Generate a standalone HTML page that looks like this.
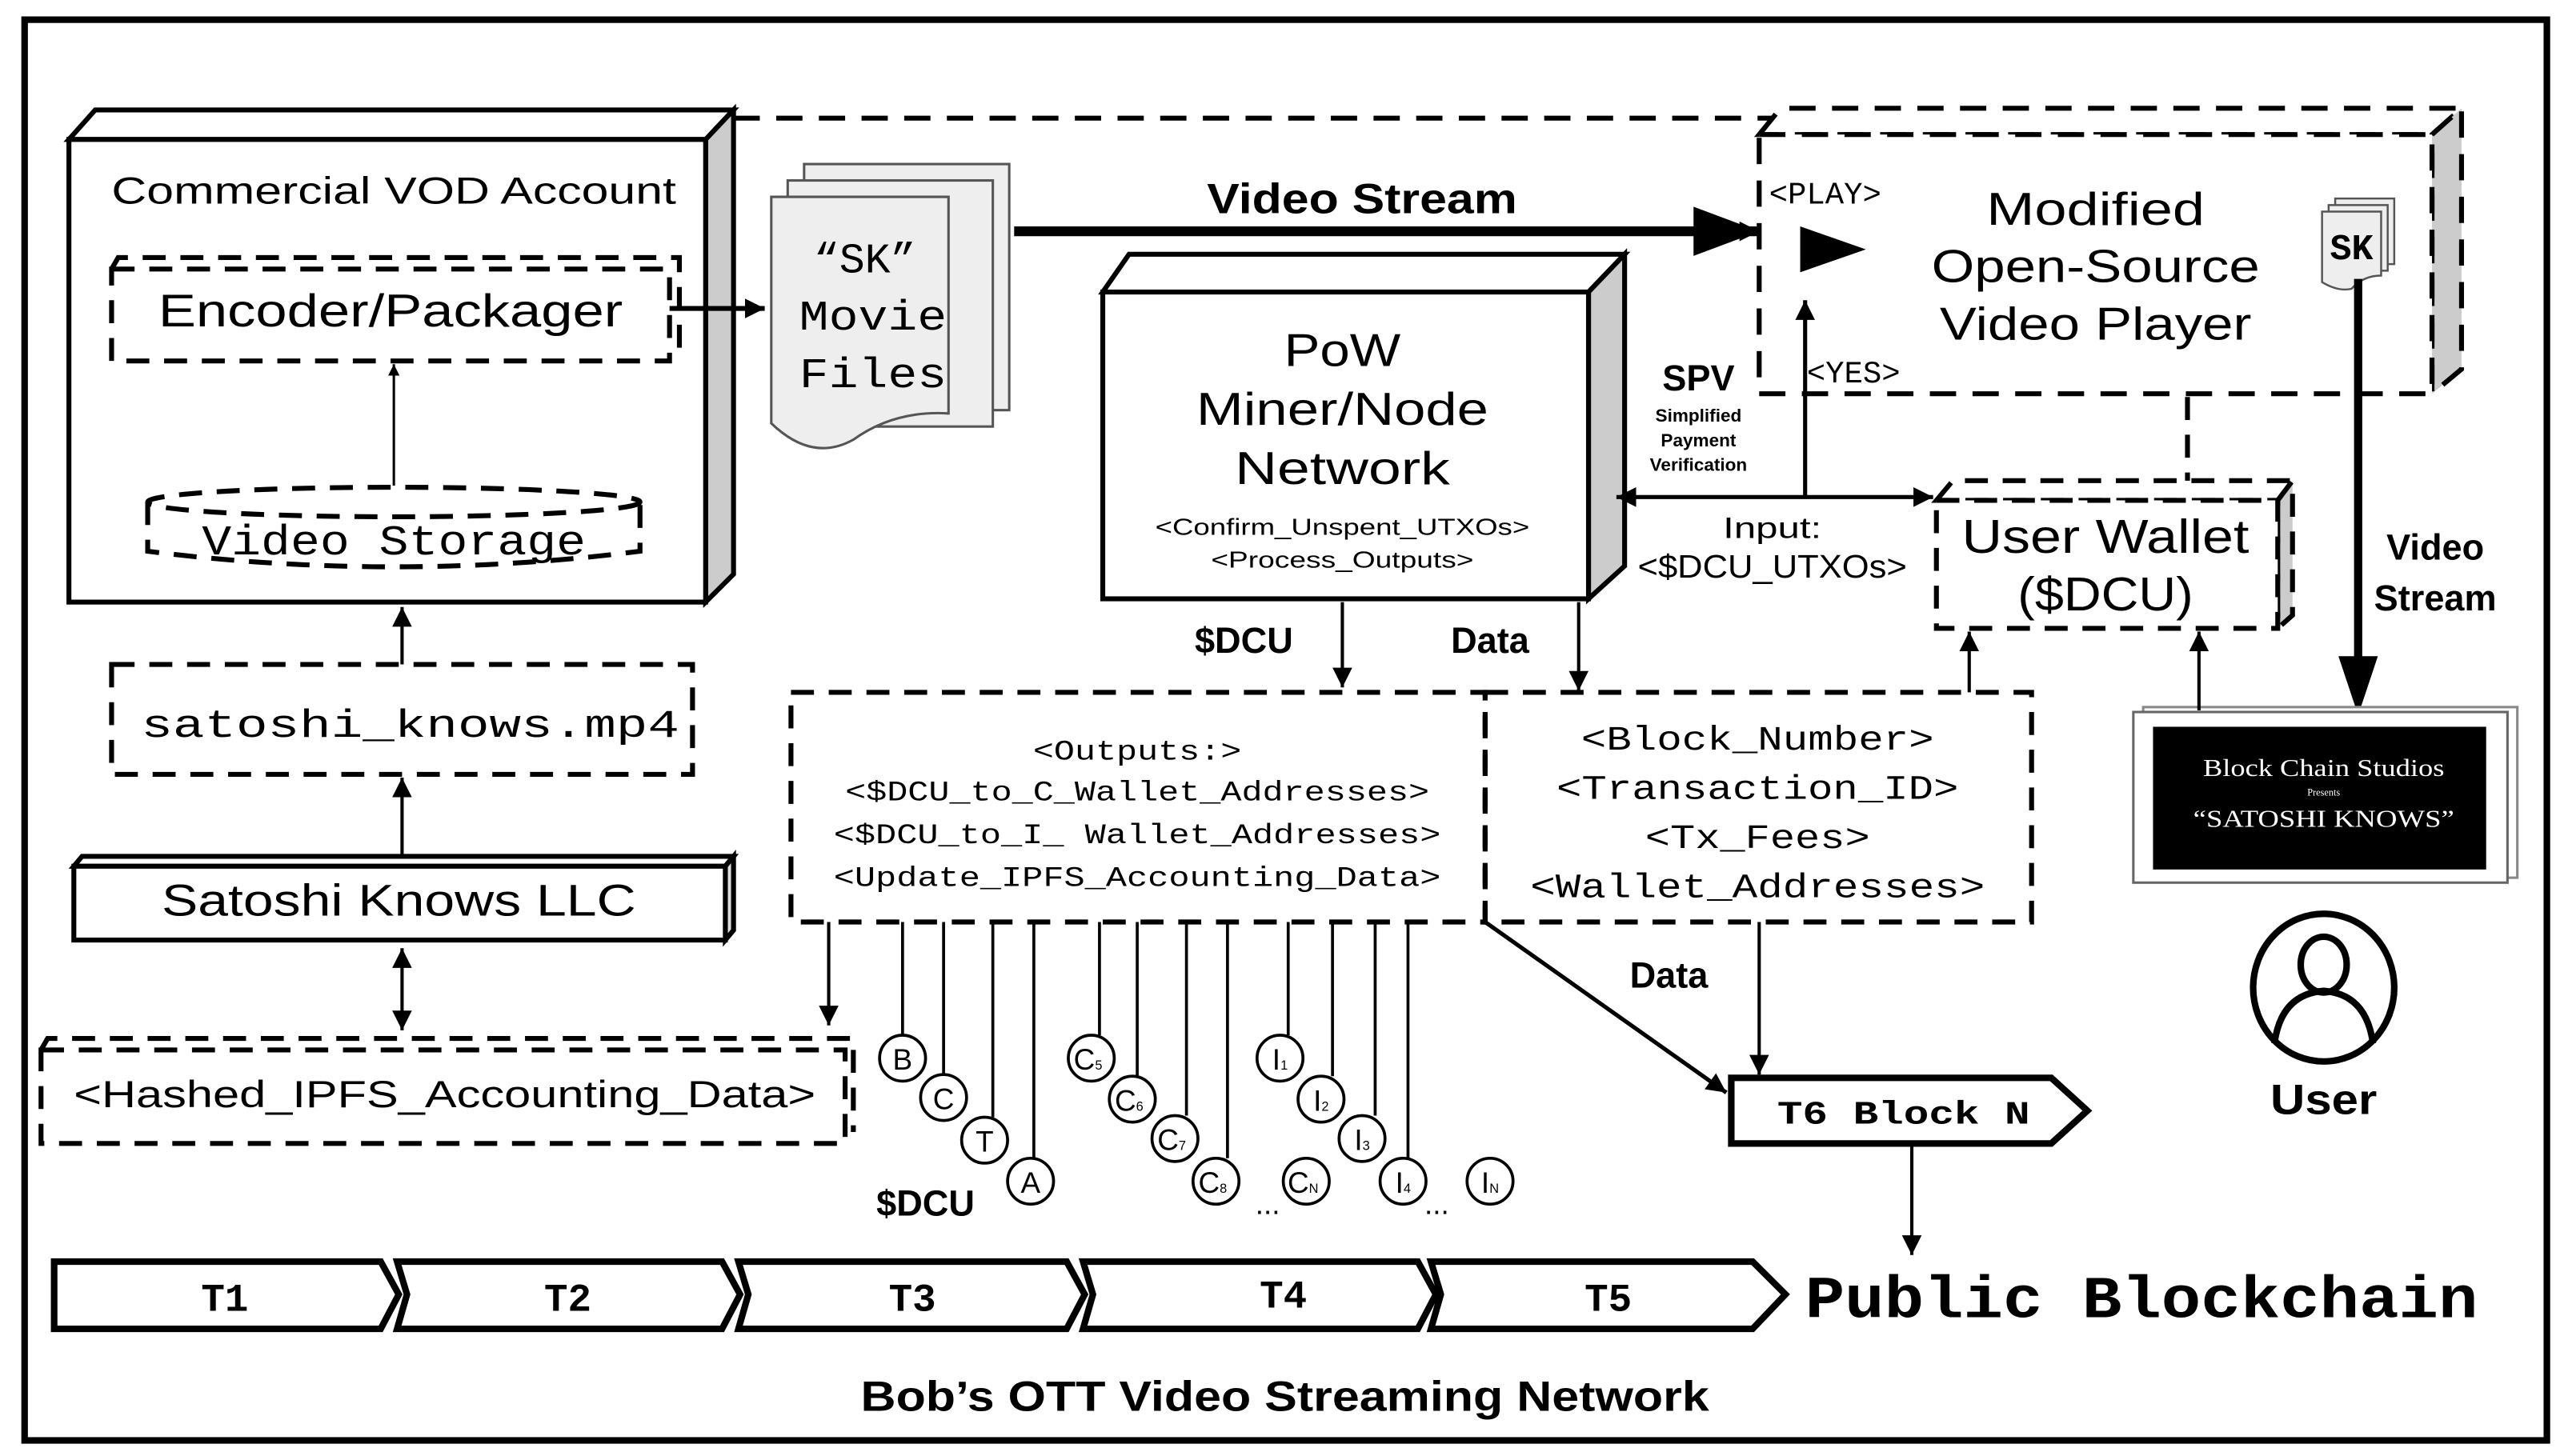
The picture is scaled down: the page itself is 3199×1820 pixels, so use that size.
<!DOCTYPE html>
<html><head><meta charset="utf-8"><style>
html,body{margin:0;padding:0;background:#fff}
svg{display:block}
.s{font-family:"Liberation Sans",sans-serif}
.m{font-family:"Liberation Mono",monospace}
.f{font-family:"Liberation Serif",serif}
</style></head><body>
<svg width="3199" height="1820" viewBox="0 0 1560 887.5" preserveAspectRatio="none" xmlns="http://www.w3.org/2000/svg">
<defs>
<marker id="ab" viewBox="0 0 10 10" refX="10" refY="5" markerWidth="12" markerHeight="12" orient="auto-start-reverse" markerUnits="userSpaceOnUse"><path d="M0,0L10,5L0,10z"/></marker>
<marker id="as" viewBox="0 0 10 10" refX="10" refY="5" markerWidth="7" markerHeight="7" orient="auto" markerUnits="userSpaceOnUse"><path d="M0,0L10,5L0,10z"/></marker>
</defs>
<rect width="1560" height="887.5" fill="#fff"/>
<rect x="15" y="12" width="1537" height="866" fill="none" stroke="#000" stroke-width="4"/>

<g stroke="#000" stroke-width="3" fill="none">
<polygon points="42,85 58,67 447,67 430,85" fill="#fff"/>
<polygon points="430,85 447,67 447,350 430,367" fill="#ccc"/>
<rect x="42" y="85" width="388" height="282" fill="#fff"/>
<line x1="447" y1="72" x2="1085" y2="72" stroke-dasharray="16,10"/>
<g stroke-dasharray="14,9">
<path d="M68,164 L72,157 L414,157 L414,212"/>
<rect x="68" y="164" width="340" height="56"/>
</g>
<g stroke-dasharray="14,9">
<ellipse cx="240" cy="306" rx="150" ry="9"/>
<path d="M90,306 L90,336 Q240,355 390,336 L390,306"/>
</g>
</g>
<line x1="408" y1="188" x2="466" y2="188" stroke="#000" stroke-width="3" marker-end="url(#ab)"/>
<line x1="240" y1="296" x2="240" y2="222" stroke="#000" stroke-width="1.5" marker-end="url(#as)"/>
<text x="240" y="124" class="s" font-size="23" text-anchor="middle" textLength="344" lengthAdjust="spacingAndGlyphs">Commercial VOD Account</text>
<text x="238" y="199" class="s" font-size="28" text-anchor="middle" textLength="283" lengthAdjust="spacingAndGlyphs">Encoder/Packager</text>
<text x="240" y="338" class="m" font-size="26" text-anchor="middle" textLength="234" lengthAdjust="spacingAndGlyphs">Video Storage</text>

<g stroke="#555" stroke-width="1.5" fill="#eee">
<rect x="490" y="100" width="125" height="150"/>
<rect x="480" y="110" width="125" height="150"/>
<path d="M470,120 L578,120 L578,252 Q545,250 520,268 Q495,282 470,258 Z"/>
</g>
<g class="m" font-size="26" text-anchor="middle">
<text x="527" y="166">“SK”</text><text x="532" y="201" textLength="90" lengthAdjust="spacingAndGlyphs">Movie</text><text x="532" y="236" textLength="90" lengthAdjust="spacingAndGlyphs">Files</text>
</g>

<line x1="618" y1="141" x2="1072" y2="141" stroke="#000" stroke-width="6" marker-end="url(#ab)"/>
<polygon points="1032,126 1072,141 1032,156"/>
<text x="830" y="130" class="s" font-size="26" font-weight="bold" text-anchor="middle" textLength="189" lengthAdjust="spacingAndGlyphs">Video Stream</text>

<g stroke="#000" stroke-width="3" stroke-dasharray="16,10" fill="none">
<polygon points="1072,82 1085,66 1500,66 1482,82" fill="#fff"/>
<polygon points="1482,82 1500,66 1500,225 1482,240" fill="#ccc"/>
<rect x="1072" y="82" width="410" height="158" fill="#fff"/>
</g>
<text x="1078" y="124" class="m" font-size="19">&lt;PLAY&gt;</text>
<polygon points="1097,138 1097,166 1137,152"/>
<text x="1101" y="233" class="m" font-size="19">&lt;YES&gt;</text>
<g class="s" font-size="28" text-anchor="middle"><text x="1277" y="137" textLength="133" lengthAdjust="spacingAndGlyphs">Modified</text><text x="1277" y="172" textLength="200" lengthAdjust="spacingAndGlyphs">Open-Source</text><text x="1277" y="207" textLength="190" lengthAdjust="spacingAndGlyphs">Video Player</text></g>
<g stroke="#555" stroke-width="1.2" fill="#eee">
<rect x="1423" y="121" width="36" height="40"/><rect x="1419" y="125" width="36" height="40"/>
<path d="M1415,129 L1451,129 L1451,168 Q1440,168 1433,176 Q1425,178 1415,172 Z"/>
</g>
<text x="1433" y="158" class="m" font-size="22" font-weight="bold" text-anchor="middle">SK</text>
<line x1="1437" y1="170" x2="1437" y2="410" stroke="#000" stroke-width="5"/>
<polygon points="1425,400 1437,436 1449,400"/>
<g class="s" font-size="22" font-weight="bold" text-anchor="middle"><text x="1484" y="341">Video</text><text x="1484" y="372">Stream</text></g>

<line x1="1100" y1="303" x2="1100" y2="183" stroke="#000" stroke-width="2.5" marker-end="url(#ab)"/>
<text x="1035" y="238" class="s" font-size="22" font-weight="bold" text-anchor="middle">SPV</text>
<g class="s" font-size="11" font-weight="bold" text-anchor="middle"><text x="1035" y="257">Simplified</text><text x="1035" y="272">Payment</text><text x="1035" y="287">Verification</text></g>

<g stroke="#000" stroke-width="3">
<polygon points="672,178 688,155 990,155 968,178" fill="#fff"/>
<polygon points="968,178 990,155 990,345 968,365" fill="#ccc"/>
<rect x="672" y="178" width="296" height="187" fill="#fff"/>
</g>
<g class="s" font-size="28" text-anchor="middle"><text x="818" y="223" textLength="71" lengthAdjust="spacingAndGlyphs">PoW</text><text x="818" y="259" textLength="178" lengthAdjust="spacingAndGlyphs">Miner/Node</text><text x="818" y="295" textLength="131" lengthAdjust="spacingAndGlyphs">Network</text></g>
<g class="s" font-size="14" text-anchor="middle"><text x="818" y="326" textLength="228" lengthAdjust="spacingAndGlyphs">&lt;Confirm_Unspent_UTXOs&gt;</text><text x="818" y="346" textLength="160" lengthAdjust="spacingAndGlyphs">&lt;Process_Outputs&gt;</text></g>
<line x1="985" y1="303" x2="1178" y2="303" stroke="#000" stroke-width="2.5" marker-start="url(#ab)" marker-end="url(#ab)"/>
<text x="1080" y="328" class="s" font-size="18" text-anchor="middle" textLength="60" lengthAdjust="spacingAndGlyphs">Input:</text>
<text x="1080" y="352" class="s" font-size="20" text-anchor="middle" textLength="164" lengthAdjust="spacingAndGlyphs">&lt;$DCU_UTXOs&gt;</text>

<g stroke="#000" stroke-width="3" stroke-dasharray="14,9" fill="none">
<polygon points="1180,305 1190,293 1397,293 1388,305" fill="#fff"/>
<polygon points="1388,305 1397,293 1397,375 1388,383" fill="#ccc"/>
<rect x="1180" y="305" width="208" height="78" fill="#fff"/>
<line x1="1333" y1="242" x2="1333" y2="293"/>
</g>
<g class="s" font-size="29" text-anchor="middle"><text x="1283" y="337" textLength="175" lengthAdjust="spacingAndGlyphs">User Wallet</text><text x="1283" y="372" textLength="107" lengthAdjust="spacingAndGlyphs">($DCU)</text></g>

<rect x="1306" y="431" width="228" height="104" fill="#fff" stroke="#888" stroke-width="1.5"/>
<rect x="1300" y="434" width="228" height="104" fill="#fff" stroke="#666" stroke-width="1.5"/>
<rect x="1312" y="443" width="203" height="87" fill="#000"/>
<g class="f" fill="#fff" text-anchor="middle"><text x="1416" y="473" font-size="15" textLength="147" lengthAdjust="spacingAndGlyphs">Block Chain Studios</text><text x="1416" y="485" font-size="6">Presents</text><text x="1416" y="504" font-size="15" textLength="159" lengthAdjust="spacingAndGlyphs">“SATOSHI KNOWS”</text></g>
<line x1="1340" y1="433" x2="1340" y2="385" stroke="#000" stroke-width="2" marker-end="url(#ab)"/>
<line x1="1200" y1="422" x2="1200" y2="385" stroke="#000" stroke-width="2" marker-end="url(#ab)"/>

<g stroke="#000" stroke-width="4" fill="none">
<ellipse cx="1416" cy="602" rx="43" ry="45"/>
<ellipse cx="1416" cy="588" rx="14" ry="17"/>
<path d="M1386,636 Q1390,606 1416,604 Q1442,606 1446,636"/>
</g>
<text x="1416" y="679" class="s" font-size="26" font-weight="bold" text-anchor="middle" textLength="65" lengthAdjust="spacingAndGlyphs">User</text>

<text x="758" y="398" class="s" font-size="22" font-weight="bold" text-anchor="middle">$DCU</text>
<line x1="818" y1="367" x2="818" y2="419" stroke="#000" stroke-width="2" marker-end="url(#ab)"/>
<text x="908" y="398" class="s" font-size="22" font-weight="bold" text-anchor="middle">Data</text>
<line x1="962" y1="367" x2="962" y2="421" stroke="#000" stroke-width="2" marker-end="url(#ab)"/>

<g stroke="#000" stroke-width="3" stroke-dasharray="14,9" fill="none">
<rect x="482" y="422" width="423" height="140"/>
<rect x="905" y="422" width="333" height="140"/>
</g>
<g class="m" font-size="17" text-anchor="middle">
<text x="693" y="463" textLength="127" lengthAdjust="spacingAndGlyphs">&lt;Outputs:&gt;</text>
<text x="693" y="488" textLength="356" lengthAdjust="spacingAndGlyphs">&lt;$DCU_to_C_Wallet_Addresses&gt;</text>
<text x="693" y="514" textLength="370" lengthAdjust="spacingAndGlyphs">&lt;$DCU_to_I_ Wallet_Addresses&gt;</text>
<text x="693" y="540" textLength="370" lengthAdjust="spacingAndGlyphs">&lt;Update_IPFS_Accounting_Data&gt;</text>
</g>
<g class="m" font-size="21" text-anchor="middle">
<text x="1071" y="457" textLength="215" lengthAdjust="spacingAndGlyphs">&lt;Block_Number&gt;</text>
<text x="1071" y="487" textLength="245" lengthAdjust="spacingAndGlyphs">&lt;Transaction_ID&gt;</text>
<text x="1071" y="517" textLength="137" lengthAdjust="spacingAndGlyphs">&lt;Tx_Fees&gt;</text>
<text x="1071" y="547" textLength="277" lengthAdjust="spacingAndGlyphs">&lt;Wallet_Addresses&gt;</text>
</g>

<line x1="505" y1="562" x2="505" y2="625" stroke="#000" stroke-width="2" marker-end="url(#ab)"/>
<g stroke="#000" stroke-width="1.8" fill="none">
<line x1="550" y1="562" x2="550" y2="631"/>
<line x1="575" y1="562" x2="575" y2="655"/>
<line x1="605" y1="562" x2="605" y2="681"/>
<line x1="630" y1="562" x2="630" y2="706"/>
<line x1="670" y1="562" x2="670" y2="631"/>
<line x1="693" y1="562" x2="693" y2="656"/>
<line x1="723" y1="562" x2="723" y2="680"/>
<line x1="748" y1="562" x2="748" y2="706"/>
<line x1="785" y1="562" x2="785" y2="631"/>
<line x1="812" y1="562" x2="812" y2="656"/>
<line x1="838" y1="562" x2="838" y2="680"/>
<line x1="858" y1="562" x2="858" y2="706"/>
</g>
<g stroke="#000" stroke-width="1.8" fill="#fff">
<circle cx="550" cy="645" r="14"/><circle cx="575" cy="669" r="14"/><circle cx="600" cy="695" r="14"/><circle cx="628" cy="720" r="14"/>
<circle cx="665" cy="645" r="14"/><circle cx="690" cy="670" r="14"/><circle cx="716" cy="694" r="14"/><circle cx="741" cy="720" r="14"/><circle cx="796" cy="720" r="14"/>
<circle cx="780" cy="645" r="14"/><circle cx="805" cy="670" r="14"/><circle cx="830" cy="694" r="14"/><circle cx="855" cy="720" r="14"/><circle cx="908" cy="720" r="14"/>
</g>
<g class="s" font-size="18" text-anchor="middle">
<text x="550" y="652">B</text><text x="575" y="676">C</text><text x="600" y="702">T</text><text x="628" y="727">A</text>
<text x="663" y="652">C<tspan font-size="8">5</tspan></text><text x="688" y="677">C<tspan font-size="8">6</tspan></text><text x="714" y="701">C<tspan font-size="8">7</tspan></text><text x="739" y="727">C<tspan font-size="8">8</tspan></text><text x="794" y="727">C<tspan font-size="8">N</tspan></text>
<text x="780" y="652">I<tspan font-size="8">1</tspan></text><text x="805" y="677">I<tspan font-size="8">2</tspan></text><text x="830" y="701">I<tspan font-size="8">3</tspan></text><text x="855" y="727">I<tspan font-size="8">4</tspan></text><text x="908" y="727">I<tspan font-size="8">N</tspan></text>
</g>
<text x="765" y="740" class="s" font-size="18">...</text>
<text x="868" y="740" class="s" font-size="18">...</text>
<text x="564" y="741" class="s" font-size="22" font-weight="bold" text-anchor="middle">$DCU</text>

<line x1="905" y1="562" x2="1052" y2="666" stroke="#000" stroke-width="2.5" marker-end="url(#ab)"/>
<text x="1017" y="602" class="s" font-size="22" font-weight="bold" text-anchor="middle">Data</text>
<line x1="1072" y1="562" x2="1072" y2="655" stroke="#000" stroke-width="2" marker-end="url(#ab)"/>
<polygon points="1055,657 1250,657 1272,677 1250,697 1055,697" fill="#fff" stroke="#000" stroke-width="4"/>
<text x="1160" y="685" class="m" font-size="20" font-weight="bold" text-anchor="middle" textLength="154" lengthAdjust="spacingAndGlyphs">T6 Block N</text>
<line x1="1165" y1="697" x2="1165" y2="765" stroke="#000" stroke-width="2" marker-end="url(#ab)"/>

<g stroke="#000" stroke-width="3" stroke-dasharray="14,9" fill="none">
<rect x="68" y="405" width="354" height="67"/>
<path d="M25,640 L29,633 L520,633 L520,690"/>
<rect x="25" y="640" width="490" height="57"/>
</g>
<text x="250" y="449" class="m" font-size="24" text-anchor="middle" textLength="328" lengthAdjust="spacingAndGlyphs">satoshi_knows.mp4</text>
<text x="271" y="675" class="s" font-size="23" text-anchor="middle" textLength="452" lengthAdjust="spacingAndGlyphs">&lt;Hashed_IPFS_Accounting_Data&gt;</text>
<line x1="245" y1="405" x2="245" y2="370" stroke="#000" stroke-width="2" marker-end="url(#ab)"/>
<g stroke="#000" stroke-width="3">
<polygon points="45,528 50,522 447,522 442,528" fill="#fff"/>
<polygon points="442,528 447,522 447,567 442,573" fill="#ddd"/>
<rect x="45" y="528" width="397" height="45" fill="#fff"/>
</g>
<text x="243" y="558" class="s" font-size="27" text-anchor="middle" textLength="289" lengthAdjust="spacingAndGlyphs">Satoshi Knows LLC</text>
<line x1="245" y1="522" x2="245" y2="474" stroke="#000" stroke-width="2" marker-end="url(#ab)"/>
<line x1="245" y1="578" x2="245" y2="628" stroke="#000" stroke-width="2" marker-start="url(#ab)" marker-end="url(#ab)"/>

<g stroke="#000" stroke-width="4" fill="#fff">
<polygon points="33,769 232,769 243,789 232,810 33,810"/>
<polygon points="242,769 440,769 451,789 440,810 242,810 248,789"/>
<polygon points="450,769 650,769 661,789 650,810 450,810 456,789"/>
<polygon points="660,769 864,769 875,789 864,810 660,810 666,789"/>
<polygon points="872,769 1068,769 1088,789 1068,810 872,810 878,789"/>
</g>
<g class="m" font-size="24" font-weight="bold" text-anchor="middle">
<text x="137" y="799">T1</text><text x="346" y="799">T2</text><text x="556" y="799">T3</text><text x="782" y="797">T4</text><text x="980" y="799">T5</text>
</g>
<text x="1100" y="803" class="m" font-size="36" font-weight="bold" textLength="410" lengthAdjust="spacingAndGlyphs">Public Blockchain</text>
<text x="783" y="860" class="s" font-size="26" font-weight="bold" text-anchor="middle" textLength="517" lengthAdjust="spacingAndGlyphs">Bob’s OTT Video Streaming Network</text>
</svg>
</body></html>
